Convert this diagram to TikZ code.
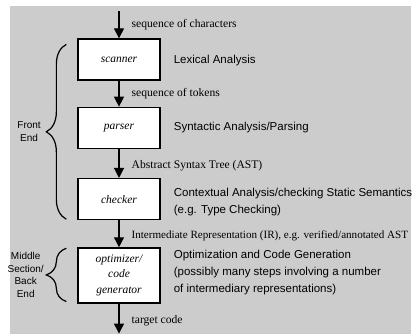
\documentclass[tikz,border=0pt]{standalone}
\usepackage{fontspec}
\setmainfont{Liberation Serif}
\setsansfont{Liberation Sans}
\usetikzlibrary{arrows.meta,positioning,decorations.pathreplacing}
\definecolor{panelgray}{RGB}{204,204,204}
\newcommand{\descfont}{\sffamily\fontsize{11.5}{17}\selectfont}

\begin{document}
\begin{tikzpicture}[
    x=1pt,y=-1pt,
    node distance=27pt,
    stage/.style={rectangle,draw=black,fill=white,line width=1.3pt,
      minimum width=82pt,minimum height=41pt,align=center,
      font=\itshape\fontsize{11.5}{15.5}\selectfont},
    flowlabel/.style={right=12pt,inner sep=0pt,font=\fontsize{11.6}{13}\selectfont},
    desc/.style={right=13pt,inner sep=0pt,align=left,font=\descfont},
    arrow/.style={-{Triangle[length=10pt,width=10pt]},line width=1.3pt},
    bracket/.style={decorate,decoration={brace,amplitude=20pt},line width=1.2pt},
    bracelabel/.style={midway,left=25pt,inner sep=0pt,align=center,
      font=\sffamily\fontsize{10}{12.5}\selectfont}
  ]
    \useasboundingbox (0,0) rectangle (412,334);
    \fill[panelgray] (10,6) rectangle (411,334);
    % compiler phases
    \node[stage] at (119,59.5) (scanner) {scanner};
    \node[stage,below=26pt of scanner] (parser) {parser};
    \node[stage,below=29pt of parser] (checker) {checker};
    \node[stage,below=of checker,minimum height=55pt] (optimizer) {optimizer/\\code\\generator};
    \coordinate[above=27pt of scanner.north] (source);
    \coordinate[below=30pt of optimizer.south] (target);
    % data passed between phases
    \draw[arrow] (source) -- node[flowlabel] {sequence of characters} (scanner);
    \draw[arrow] (scanner) -- node[flowlabel] {sequence of tokens} (parser);
    \draw[arrow] (parser) -- node[flowlabel,yshift=-2pt] {Abstract Syntax Tree (AST)} (checker);
    \draw[arrow] (checker) -- node[flowlabel,yshift=-2pt,font=\fontsize{11.1}{13}\selectfont] {Intermediate Representation (IR), e.g. verified/annotated AST} (optimizer);
    \draw[arrow] (optimizer) -- node[flowlabel,yshift=-2pt] {target code} (target);
    % what each phase does
    \node[desc,right=13pt of scanner,yshift=-1pt] (lexical) {Lexical Analysis};
    \node[desc,right=13pt of parser] (syntactic) {Syntactic Analysis/Parsing};
    \node[desc,right=13pt of checker,yshift=-3pt] (contextual) {Contextual Analysis/checking Static Semantics\\(e.g. Type Checking)};
    \node[desc,right=13pt of optimizer,yshift=3pt] (codegen) {Optimization and Code Generation\\(possibly many steps involving a number\\of intermediary representations)};
    % front end / back end
    \draw[bracket] ([xshift=-11pt,yshift=1pt]checker.south west) -- ([xshift=-11pt,yshift=-6pt]scanner.north west)
      node[bracelabel] (frontend) {Front\\End};
    \draw[bracket] ([xshift=-11pt,yshift=2pt]optimizer.south west) -- ([xshift=-11pt,yshift=-1pt]optimizer.north west)
      node[bracelabel,left=22pt] (backend) {Middle\\Section/\\Back\\End};
  \end{tikzpicture}
\end{document}
